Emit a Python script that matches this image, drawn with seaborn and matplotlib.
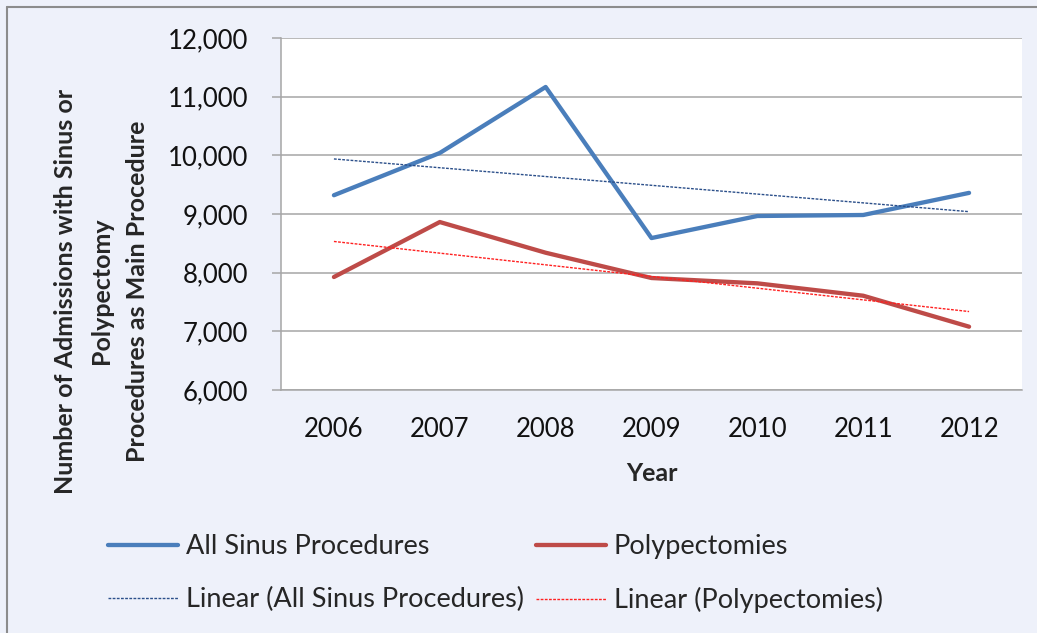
import numpy as np
import pandas as pd
import matplotlib
matplotlib.use("Agg")
import matplotlib.pyplot as plt
from matplotlib.lines import Line2D
from matplotlib.ticker import FuncFormatter, FixedLocator
import seaborn as sns

years = ['2006', '2007', '2008', '2009', '2010', '2011', '2012']
all_sinus = [9320, 10040, 11165, 8590, 8966, 8983, 9360]
polypectomies = [7926, 8863, 8340, 7909, 7818, 7607, 7079]
y_ticks = [6000, 7000, 8000, 9000, 10000, 11000, 12000]

pos = np.arange(len(years))
df = pd.DataFrame({'pos': np.tile(pos, 2),
                   'value': all_sinus + polypectomies,
                   'series': ['All Sinus Procedures'] * 7 + ['Polypectomies'] * 7})

sns.set_style("white")
plt.rcParams['font.family'] = ['Lato', 'DejaVu Sans']

bg = '#EEF1FA'
grid_c = '#A6A6A6'
blue = '#4A7EBB'
red = '#BE4B48'
blue_tr = '#2B4F8A'
red_tr = '#FF2020'

fig = plt.figure(figsize=(10.37, 6.33), dpi=100, facecolor=bg)
ax = fig.add_axes([281/1037, 1-390/633, (1022-281)/1037, (390-38)/633])
ax.set_facecolor('white')

sns.lineplot(data=df, x='pos', y='value', hue='series', palette=[blue, red],
             lw=3.1, ax=ax, legend=False, solid_capstyle='round')
sns.regplot(x=pos, y=np.array(all_sinus), scatter=False, ci=None, ax=ax,
            line_kws=dict(color=blue_tr, lw=1.0, ls=(0, (2, 1))))
sns.regplot(x=pos, y=np.array(polypectomies), scatter=False, ci=None, ax=ax,
            line_kws=dict(color=red_tr, lw=1.0, ls=(0, (2, 1))))

ax.set_xlim(-0.5, 6.5)
ax.set_ylim(6000, 12000)
ax.set_yticks(y_ticks)
ax.yaxis.set_major_formatter(FuncFormatter(lambda v, p: f'{int(v):,}'))
ax.yaxis.grid(True, color=grid_c, lw=1.1)
ax.set_axisbelow(True)

ax.xaxis.set_major_locator(FixedLocator(np.arange(-0.5, 7, 1)))
ax.xaxis.set_minor_locator(FixedLocator(pos))
ax.set_xticklabels([])
ax.set_xticklabels(years, minor=True)
ax.tick_params(axis='x', which='major', length=5.8, color=grid_c, width=1.1, direction='out')
ax.tick_params(axis='x', which='minor', length=0, pad=19.5, labelsize=18.5, labelcolor='#111111')
ax.tick_params(axis='y', length=6.5, color=grid_c, width=1.1, direction='out', left=True,
               pad=17, labelsize=18.5, labelcolor='#111111')

for s in ['top', 'right']:
    ax.spines[s].set_visible(False)
for s in ['left', 'bottom']:
    ax.spines[s].set_color(grid_c)
    ax.spines[s].set_linewidth(1.1)

ax.set_xlabel('Year', fontsize=18, fontweight='bold', labelpad=14)
ax.set_ylabel('Number of Admissions with Sinus or\nPolypectomy\nProcedures as Main Procedure',
              fontsize=18, fontweight='bold', linespacing=1.68)
ax.yaxis.set_label_coords((149-281)/741, (390-291)/352)

handles = [Line2D([], [], color=blue, lw=3.1),
           Line2D([], [], color=blue_tr, lw=1.0, ls=(0, (2, 1))),
           Line2D([], [], color=red, lw=3.1),
           Line2D([], [], color=red_tr, lw=1.0, ls=(0, (2, 1)))]
labels = ['All Sinus Procedures', 'Linear (All Sinus Procedures)',
          'Polypectomies', 'Linear (Polypectomies)']
fig.legend(handles, labels, loc='upper left', bbox_to_anchor=(108/1037, 1-534/633),
           ncol=2, frameon=False, fontsize=19.5, borderpad=0, borderaxespad=0,
           handlelength=2.6, handletextpad=0.27, columnspacing=0.45, labelspacing=1.03)

# border on top and left like the source
fig.add_artist(Line2D([7/1037, 1], [1-7/633, 1-7/633], color='#8C8C8C', lw=1.5, transform=fig.transFigure))
fig.add_artist(Line2D([7/1037, 7/1037], [0, 1-7/633], color='#8C8C8C', lw=1.5, transform=fig.transFigure))

fig.savefig('out.png', dpi=100, facecolor=bg)
